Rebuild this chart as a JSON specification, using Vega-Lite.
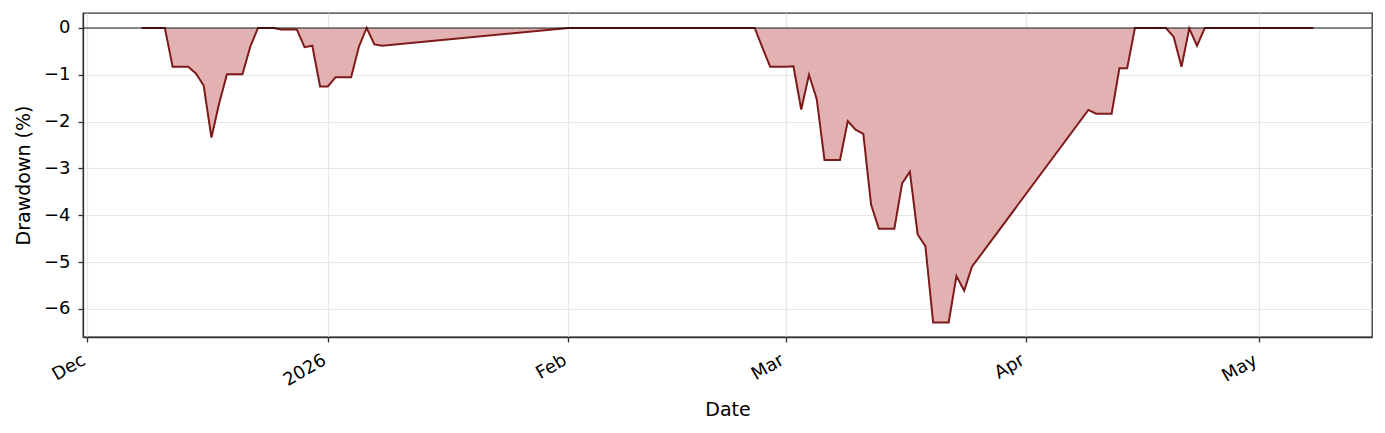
{
  "$schema": "https://vega.github.io/schema/vega-lite/v6.json",
  "width": 1289,
  "height": 324,
  "autosize": {"type": "none"},
  "padding": {"left": 83, "top": 13, "right": 13, "bottom": 96},
  "background": "white",
  "config": {
    "view": {"stroke": "#333333", "strokeWidth": 1.3},
    "font": "DejaVu Sans",
    "axis": {
      "labelFont": "DejaVu Sans",
      "titleFont": "DejaVu Sans",
      "labelFontSize": 18,
      "titleFontSize": 19,
      "titleFontWeight": "normal",
      "labelColor": "#000000",
      "titleColor": "#000000",
      "domainColor": "#333333",
      "domainWidth": 1.3,
      "tickColor": "#333333",
      "tickWidth": 1.3,
      "tickSize": 5,
      "gridColor": "#e6e6e6",
      "gridWidth": 1.2
    }
  },
  "data": {
    "values": [
      {"date": "2025-12-08", "dd": 0},
      {"date": "2025-12-09", "dd": 0},
      {"date": "2025-12-10", "dd": 0},
      {"date": "2025-12-11", "dd": 0},
      {"date": "2025-12-12", "dd": -0.83},
      {"date": "2025-12-13", "dd": -0.83},
      {"date": "2025-12-14", "dd": -0.83},
      {"date": "2025-12-15", "dd": -0.97},
      {"date": "2025-12-16", "dd": -1.23},
      {"date": "2025-12-17", "dd": -2.34},
      {"date": "2025-12-18", "dd": -1.61},
      {"date": "2025-12-19", "dd": -0.99},
      {"date": "2025-12-20", "dd": -0.99},
      {"date": "2025-12-21", "dd": -0.99},
      {"date": "2025-12-22", "dd": -0.40},
      {"date": "2025-12-23", "dd": 0},
      {"date": "2025-12-24", "dd": 0},
      {"date": "2025-12-25", "dd": 0},
      {"date": "2025-12-26", "dd": -0.03},
      {"date": "2025-12-27", "dd": -0.03},
      {"date": "2025-12-28", "dd": -0.03},
      {"date": "2025-12-29", "dd": -0.41},
      {"date": "2025-12-30", "dd": -0.38},
      {"date": "2025-12-31", "dd": -1.25},
      {"date": "2026-01-01", "dd": -1.25},
      {"date": "2026-01-02", "dd": -1.05},
      {"date": "2026-01-03", "dd": -1.05},
      {"date": "2026-01-04", "dd": -1.05},
      {"date": "2026-01-05", "dd": -0.40},
      {"date": "2026-01-06", "dd": 0},
      {"date": "2026-01-07", "dd": -0.35},
      {"date": "2026-01-08", "dd": -0.38},
      {"date": "2026-02-01", "dd": 0},
      {"date": "2026-02-25", "dd": 0},
      {"date": "2026-02-26", "dd": -0.42},
      {"date": "2026-02-27", "dd": -0.83},
      {"date": "2026-02-28", "dd": -0.83},
      {"date": "2026-03-01", "dd": -0.83},
      {"date": "2026-03-02", "dd": -0.82},
      {"date": "2026-03-03", "dd": -1.74},
      {"date": "2026-03-04", "dd": -1.00},
      {"date": "2026-03-05", "dd": -1.52},
      {"date": "2026-03-06", "dd": -2.82},
      {"date": "2026-03-07", "dd": -2.82},
      {"date": "2026-03-08", "dd": -2.82},
      {"date": "2026-03-09", "dd": -1.99},
      {"date": "2026-03-10", "dd": -2.17},
      {"date": "2026-03-11", "dd": -2.26},
      {"date": "2026-03-12", "dd": -3.77},
      {"date": "2026-03-13", "dd": -4.29},
      {"date": "2026-03-14", "dd": -4.29},
      {"date": "2026-03-15", "dd": -4.29},
      {"date": "2026-03-16", "dd": -3.32},
      {"date": "2026-03-17", "dd": -3.07},
      {"date": "2026-03-18", "dd": -4.41},
      {"date": "2026-03-19", "dd": -4.66},
      {"date": "2026-03-20", "dd": -6.29},
      {"date": "2026-03-21", "dd": -6.29},
      {"date": "2026-03-22", "dd": -6.29},
      {"date": "2026-03-23", "dd": -5.30},
      {"date": "2026-03-24", "dd": -5.61},
      {"date": "2026-03-25", "dd": -5.10},
      {"date": "2026-04-09", "dd": -1.75},
      {"date": "2026-04-10", "dd": -1.83},
      {"date": "2026-04-11", "dd": -1.83},
      {"date": "2026-04-12", "dd": -1.83},
      {"date": "2026-04-13", "dd": -0.86},
      {"date": "2026-04-14", "dd": -0.86},
      {"date": "2026-04-15", "dd": 0},
      {"date": "2026-04-16", "dd": 0},
      {"date": "2026-04-17", "dd": 0},
      {"date": "2026-04-18", "dd": 0},
      {"date": "2026-04-19", "dd": 0},
      {"date": "2026-04-20", "dd": -0.19},
      {"date": "2026-04-21", "dd": -0.83},
      {"date": "2026-04-22", "dd": -0.01},
      {"date": "2026-04-23", "dd": -0.38},
      {"date": "2026-04-24", "dd": 0},
      {"date": "2026-04-25", "dd": 0},
      {"date": "2026-04-26", "dd": 0},
      {"date": "2026-04-27", "dd": 0},
      {"date": "2026-04-28", "dd": 0},
      {"date": "2026-04-29", "dd": 0},
      {"date": "2026-04-30", "dd": 0},
      {"date": "2026-05-01", "dd": 0},
      {"date": "2026-05-02", "dd": 0},
      {"date": "2026-05-03", "dd": 0},
      {"date": "2026-05-04", "dd": 0},
      {"date": "2026-05-05", "dd": 0},
      {"date": "2026-05-06", "dd": 0},
      {"date": "2026-05-07", "dd": 0},
      {"date": "2026-05-08", "dd": 0}
    ]
  },
  "encoding": {
    "x": {
      "field": "date",
      "type": "temporal",
      "title": "Date",
      "scale": {
        "type": "utc",
        "domain": [
          {"year": 2025, "month": 11, "date": 30, "hours": 10, "minutes": 48, "utc": true},
          {"year": 2026, "month": 5, "date": 15, "hours": 13, "minutes": 12, "utc": true}
        ]
      },
      "axis": {
        "values": [
          {"year": 2025, "month": 12, "date": 1, "utc": true},
          {"year": 2026, "month": 1, "date": 1, "utc": true},
          {"year": 2026, "month": 2, "date": 1, "utc": true},
          {"year": 2026, "month": 3, "date": 1, "utc": true},
          {"year": 2026, "month": 4, "date": 1, "utc": true},
          {"year": 2026, "month": 5, "date": 1, "utc": true}
        ],
        "labelExpr": "utcmonth(datum.value) == 0 ? utcFormat(datum.value, '%Y') : utcFormat(datum.value, '%b')",
        "labelAngle": -30,
        "labelAlign": "right",
        "labelBaseline": "top",
        "labelPadding": 9,
        "labelOffset": -8,
        "titlePadding": 11,
        "grid": true
      }
    },
    "y": {
      "field": "dd",
      "type": "quantitative",
      "title": "Drawdown (%)",
      "scale": {"domain": [-6.6, 0.32], "nice": false, "zero": false},
      "axis": {
        "values": [-6, -5, -4, -3, -2, -1, 0],
        "format": "d",
        "labelPadding": 8,
        "titlePadding": 10,
        "grid": true
      }
    }
  },
  "layer": [
    {
      "mark": {"type": "area", "color": "#e2b1b1", "opacity": 1},
      "encoding": {"y2": {"datum": 0}}
    },
    {
      "mark": {"type": "line", "color": "#7f1a1a", "strokeWidth": 2}
    },
    {
      "data": {"values": [{"level": 0}]},
      "mark": {"type": "rule", "color": "#000000", "opacity": 0.6, "strokeWidth": 1.3},
      "encoding": {"x": null, "y": {"field": "level", "type": "quantitative"}}
    }
  ]
}
